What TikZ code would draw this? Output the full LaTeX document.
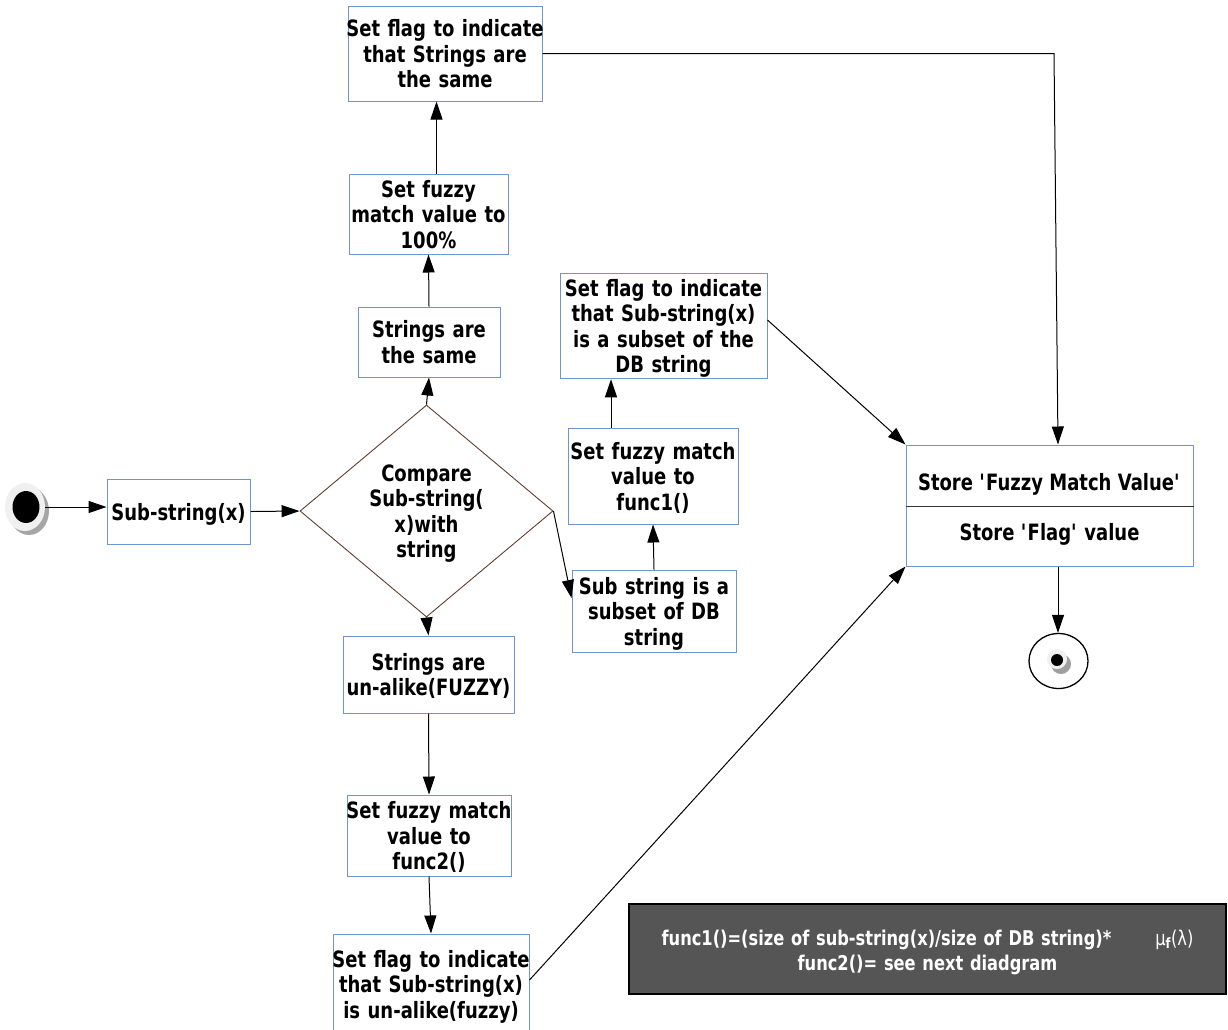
\documentclass[tikz,border=0pt]{standalone}
\usepackage{fontspec}
\setmainfont{DejaVu Sans}[FakeStretch=0.8]
\usepackage{xcolor}
\usetikzlibrary{arrows.meta,shapes.geometric}

\definecolor{boxblue}{RGB}{110,150,205}
\definecolor{diabrown}{RGB}{95,62,45}
\definecolor{legendgray}{RGB}{85,85,85}

\begin{document}
\begin{tikzpicture}[x=1pt, y=-1pt,
        font=\fontsize{22.5}{25.5}\selectfont\bfseries,
        txt/.style={align=center, inner sep=0pt, text width=#1,
            execute at begin node={\rule{0pt}{23pt}},
            execute at end node={\rule[-6pt]{0pt}{6pt}}},
        box/.code={\pgfmathsetlengthmacro\boxtw{#1+40}%
            \pgfkeysalso{/tikz/txt=\boxtw, /tikz/inner xsep=-20pt, /tikz/minimum width=#1,
                /tikz/draw=boxblue, /tikz/line width=1pt, /tikz/fill=white}},
        arr/.style={-{Triangle[length=18pt,width=12pt]}, line width=1pt}]
    \useasboundingbox (0,0) rectangle (1228,1029);

    % Initial state
    \fill[gray!70] (29,511) ellipse (20pt and 24pt);
    \node[ellipse, fill=gray!12, minimum width=40, minimum height=48] (start) at (25,507) {};
    \fill[black] (26,507) ellipse (13.5pt and 16pt);

    % Main column
    \node[box=143, minimum height=65] (sub) at (178.5,511.5) {Sub-string(x)};
    \node[txt=118, draw=diabrown, line width=0.9pt, shape=diamond, aspect=1.2,
          minimum width=253, minimum height=212] (compare) at (426.5,511) {Compare\\Sub-string(\\x)with\\string};
    \node[box=142, minimum height=70] (same) at (429,342) {Strings are\\the same};
    \node[box=159, minimum height=78] (full) at (428.5,214) {Set fuzzy\\match value to\\100\%};
    \node[box=194, minimum height=95] (flagSame) at (445,53.5) {Set flag to indicate\\that Strings are\\the same};
    \node[box=171, minimum height=77] (unlike) at (428.5,674.5) {Strings are\\un-alike(FUZZY)};
    \node[box=164, minimum height=81] (fuzzy) at (429,835.5) {Set fuzzy match\\value to\\func2()};
    \node[box=196, minimum height=100] (flagFuzzy) at (431,984) {Set flag to indicate\\that Sub-string(x)\\is un-alike(fuzzy)};

    % Subset column
    \node[box=164, minimum height=82] (subset) at (654,611) {Sub string is a\\subset of DB\\string};
    \node[box=170, minimum height=96] (partial) at (653,476) {Set fuzzy match\\value to\\func1()};
    \node[box=207, minimum height=104] (flagSubset) at (663.5,326) {Set flag to indicate\\that Sub-string(x)\\is a subset of the\\DB string};

    % Store box and final state
    \node[draw=boxblue, line width=1pt, fill=white, minimum width=287, minimum height=121] (store) at (1049.5,505.5) {};
    \draw[line width=0.8pt, black!80] (store.west |- 0,506) -- (store.east |- 0,506);
    \node[anchor=base] (storeA) at (1049.5,490) {Store \textquotesingle Fuzzy Match Value\textquotesingle};
    \node[anchor=base] (storeB) at (1049.5,540) {Store \textquotesingle Flag\textquotesingle{} value};
    \node[draw, ellipse, line width=1.3pt, fill=white, minimum width=59, minimum height=55] (stop) at (1058.5,661) {};
    \fill[gray!75] (1061,664) circle (10pt);
    \fill[gray!12] (1057,659) circle (10pt);
    \fill[black] (1057,660) circle (6pt);

    % Legend
    \node[txt=590, fill=legendgray, draw=black, line width=2pt, minimum width=597, minimum height=90,
          text=white, font=\fontsize{20.3}{25}\selectfont\bfseries] (legend) at (927.5,949)
          {func1()=(size of sub-string(x)/size of DB string)*\hspace{44pt}{\mdseries μ\textsubscript{\bfseries f}(λ)}\\func2()= see next diadgram};

    % Connectors
    \coordinate (bend) at (1054,53.5);
    \draw[arr] (start.east) -- (start.east -| sub.west);
    \draw[arr] (sub.east) -- (compare.west);
    \draw[arr] (compare.north) -- (same.south);
    \draw[arr] (same.north) -- (full.south);
    \draw[arr] ([xshift=8pt]full.north) -- ([xshift=8pt]full.north |- flagSame.south);
    \draw[arr] (compare.south) -- (unlike.north);
    \draw[arr] (unlike.south) -- (fuzzy.north);
    \draw[arr] (fuzzy.south) -- (flagFuzzy.north);
    \draw[arr] (compare.east) -- ([yshift=13pt]subset.west);
    \draw[arr] (subset.north) -- (partial.south);
    \draw[arr] ([xshift=-42pt]partial.north) -- ([xshift=-42pt]partial.north |- flagSubset.south);
    \draw[arr] (flagSame.east) -- (bend) -- ([xshift=8.5pt]store.north);
    \draw[arr] ([yshift=6pt]flagSubset.east) -- (store.north west);
    \draw[arr] ([yshift=4pt]flagFuzzy.east) -- (store.south west);
    \draw[arr] ([xshift=8.5pt]store.south) -- ([xshift=8.5pt]store.south |- stop.north);
\end{tikzpicture}
\end{document}
